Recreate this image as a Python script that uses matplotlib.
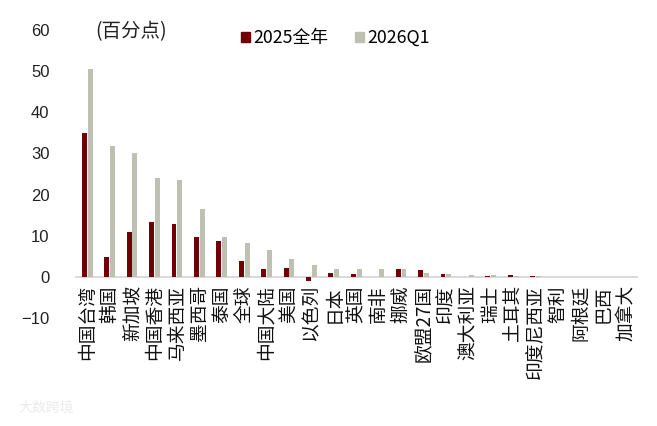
import matplotlib
matplotlib.use("Agg")
import matplotlib.pyplot as plt
import numpy as np
from matplotlib.patches import Patch

plt.rcParams['font.family'] = ['Noto Sans CJK SC', 'DejaVu Sans']

categories = ["中国台湾", "韩国", "新加坡", "中国香港", "马来西亚", "墨西哥", "泰国", "全球",
              "中国大陆", "美国", "以色列", "日本", "英国", "南非", "挪威", "欧盟27国", "印度",
              "澳大利亚", "瑞士", "土耳其", "印度尼西亚", "智利", "阿根廷", "巴西", "加拿大"]
series_2025 = [35.0, 4.9, 11.0, 13.3, 12.8, 9.7, 8.6, 3.9, 1.9, 2.1, -1.0, 1.0, 0.8, 0.0,
               1.8, 1.6, 0.6, 0.0, 0.3, 0.4, 0.2, 0.0, 0.0, 0.0, 0.0]
series_2026q1 = [50.4, 31.9, 30.2, 24.0, 23.5, 16.5, 9.7, 8.3, 6.6, 4.4, 2.8, 1.9, 2.0, 2.0,
                 1.8, 1.0, 0.6, 0.5, 0.5, 0.2, 0.3, 0.0, 0.0, 0.0, 0.0]
yticks = [-10, 0, 10, 20, 30, 40, 50, 60]
legend_labels = ["2025全年", "2026Q1"]

c_red = "#6E0006"
c_gray = "#BEC0B2"

fig = plt.figure(figsize=(6.57, 4.26), dpi=100)
ax = fig.add_axes([76/657, 1-318/426, (636.5-76)/657, (318-30)/426])

x = np.arange(len(categories))
w = 0.22
ax.bar(x - 0.13, series_2025, width=w, color=c_red, zorder=2)
ax.bar(x + 0.13, series_2026q1, width=w, color=c_gray, zorder=2)

ax.set_xlim(-0.5, len(categories) - 0.5)
ax.set_ylim(-10, 60)
ax.set_yticks(yticks)
ax.set_yticklabels([str(v).replace('-', '\u2212') for v in yticks], fontsize=12,
                   color="#222222", family=['Liberation Sans', 'DejaVu Sans'])
ax.tick_params(axis='y', length=0, pad=19)

for s in ['left', 'right', 'top']:
    ax.spines[s].set_visible(False)
ax.spines['bottom'].set_position(('data', 0))
ax.spines['bottom'].set_color('#D3D3D3')
ax.spines['bottom'].set_linewidth(1.2)
ax.spines['bottom'].set_zorder(1)

ax.set_xticks(x)
ax.set_xticklabels(categories, rotation=90, fontsize=13.5, color="#111111", va='top', ha='center')
ax.tick_params(axis='x', length=0, pad=6)

fig.text(95/657, 1-32/426, "(百分点)", fontsize=14, color="#222222", va='center', ha='left')

handles = [Patch(color=c_red), Patch(color=c_gray)]
fig.legend(handles, legend_labels, ncol=2, frameon=False, fontsize=12.8,
           loc='center left', bbox_to_anchor=(241/657, 1-38/426),
           handlelength=0.5, handleheight=0.5, handletextpad=0.2,
           columnspacing=1.5, borderpad=0, borderaxespad=0)

fig.text(18/657, 1-408/426, "大数跨境", fontsize=10, color="#EBEBEB", va='center', ha='left')

fig.savefig("out.png", dpi=100)
